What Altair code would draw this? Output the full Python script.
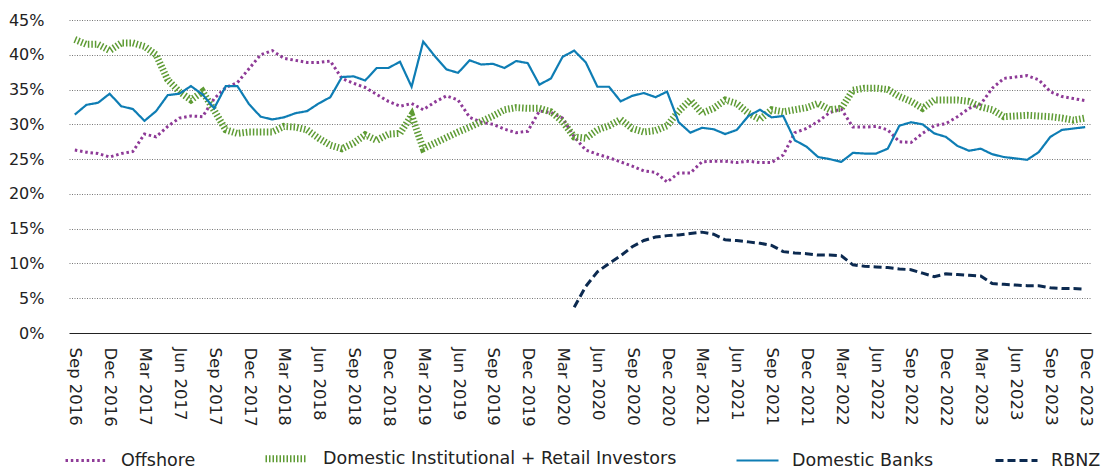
import altair as alt
import pandas as pd

months = list(pd.date_range("2016-09-01", periods=88, freq="MS").strftime("%b %Y"))
tick_labels = months[::3]

offshore = [26.3, 26.0, 25.8, 25.3, 25.8, 26.1, 28.6, 28.2, 29.7, 30.9,
            31.2, 31.1, 33.7, 35.3, 36.0, 38.0, 40.0, 40.6, 39.5, 39.2,
            38.9, 38.9, 39.1, 36.6, 35.9, 35.3, 34.3,
            33.3, 32.6, 33.0, 32.1, 33.2, 34.1, 33.5, 31.0, 30.3, 30.0,
            29.3, 28.8, 29.0, 31.9, 31.7, 30.9, 28.2, 26.3, 25.7, 25.2,
            24.6, 24.0, 23.3, 23.1, 21.7, 23.0, 23.0, 24.6, 24.7, 24.7,
            24.5,
            24.7, 24.5, 24.5, 25.6, 28.8, 29.4, 30.4, 31.7, 32.2, 29.6,
            29.6, 29.7, 29.2, 27.5, 27.4, 28.7, 29.8, 30.1, 31.1, 32.3,
            32.9, 35.2, 36.6, 36.8, 37.0, 36.4, 34.7, 34.0, 33.7, 33.4]

domestic_inst = [42.2, 41.5, 41.5, 40.6, 41.7, 41.7, 41.2, 40.0, 36.4, 34.7,
                 33.5, 34.7, 32.0, 29.2, 28.7, 28.9, 28.9, 28.9, 29.7, 29.6,
                 29.2, 28.0, 27.0, 26.5, 27.3, 28.5, 27.7,
                 28.6, 28.7, 31.3, 26.5, 27.3, 28.1, 28.9, 29.6, 30.4, 31.2,
                 32.1, 32.4, 32.3, 32.3, 31.8, 30.4, 28.2, 28.0, 29.2, 29.8,
                 30.7, 29.4, 28.9, 29.1, 29.8, 31.9, 33.5, 31.6, 32.3, 33.5,
                 33.0,
                 31.6, 30.7, 32.1, 31.8, 32.1, 32.4, 33.0, 32.1, 32.3, 34.9,
                 35.2, 35.2, 35.0, 34.0, 33.3, 32.3, 33.5, 33.5, 33.5, 33.3,
                 32.5, 32.1, 31.1, 31.2, 31.3, 31.2, 31.1, 30.9, 30.6, 30.9]

domestic_banks = [31.4, 32.8, 33.1, 34.4, 32.6, 32.2, 30.5, 31.9, 34.2, 34.4,
                  35.5, 34.3, 32.3, 35.5, 35.5, 32.9, 31.1, 30.7, 31.0, 31.6,
                  31.9, 33.0, 33.9, 36.8, 36.9, 36.3, 38.1,
                  38.1, 39.0, 35.4, 41.9, 39.8, 37.9, 37.4, 39.2, 38.6, 38.7,
                  38.1, 39.1, 38.8, 35.7, 36.6, 39.7, 40.6, 38.9, 35.4, 35.4,
                  33.3, 34.1, 34.5, 33.9, 34.7, 30.3, 28.8, 29.5, 29.3, 28.6,
                  29.2,
                  31.2, 32.1, 31.0, 31.2, 27.7, 26.8, 25.3, 25.0, 24.6, 25.9,
                  25.8, 25.8, 26.5, 29.8, 30.3, 30.0, 28.7, 28.2, 26.9, 26.2,
                  26.5, 25.7, 25.3, 25.1, 24.9, 26.0, 28.2, 29.2, 29.4, 29.6]

rbnz_start = "Apr 2020"
rbnz = [3.7, 6.7, 8.8, 10.0, 11.1, 12.4, 13.3, 13.8, 14.0, 14.1,
        14.3, 14.5, 14.2, 13.4, 13.3,
        13.1, 12.9, 12.6, 11.7, 11.5, 11.4, 11.2, 11.2, 11.1, 9.8,
        9.6, 9.5, 9.4, 9.2, 9.1, 8.6, 8.1, 8.5, 8.4, 8.3,
        8.2, 7.1, 7.0, 6.9, 6.8, 6.8, 6.5, 6.4, 6.4, 6.3]

series_names = ["Offshore", "Domestic Institutional + Retail Investors",
                "Domestic Banks", "RBNZ"]
colors = ["#8E3A97", "#5E9B34", "#0E7DB4", "#0C2A50"]
dashes = [[2.5, 2.8], [1.5, 2], [1, 0], [8, 4]]
widths = [3, 7, 2.2, 3]

rows = []
for name, vals, start in [(series_names[0], offshore, months[0]),
                          (series_names[1], domestic_inst, months[0]),
                          (series_names[2], domestic_banks, months[0]),
                          (series_names[3], rbnz, rbnz_start)]:
    s = months.index(start)
    for k, v in enumerate(vals):
        rows.append({"month": months[s + k], "series": name, "value": v / 100})
df = pd.DataFrame(rows)

FONT = "DejaVu Sans"

x = alt.X("month:O", sort=months, title=None,
          scale=alt.Scale(type="point", range=[20, 1042]),
          axis=alt.Axis(values=tick_labels, labelAngle=90, ticks=False,
                        domain=False, grid=False, labelPadding=14,
                        labelFontSize=16.5, labelFont=FONT, labelColor="#222"))
y = alt.Y("value:Q", title=None,
          scale=alt.Scale(domain=[0, 0.45], nice=False),
          axis=alt.Axis(values=[i * 0.05 for i in range(10)], format=".0%",
                        domain=False, ticks=False, labelPadding=5,
                        labelFontSize=16, labelFont=FONT, labelColor="#222",
                        grid=True, gridWidth=1,
                        gridColor={"condition": {"test": "datum.value === 0", "value": "#222"}, "value": "#777"},
                        gridDash={"condition": {"test": "datum.value === 0", "value": []}, "value": [1, 1.5]}))

legend = alt.Legend(title=None, orient="none", legendX=15, legendY=414,
                    direction="horizontal", symbolType="stroke", symbolSize=1764,
                    labelFontSize=17.5, labelFont=FONT, labelColor="#222",
                    columnPadding=55, labelOffset=12, labelLimit=600)

chart = alt.Chart(df).mark_line(strokeCap="butt").encode(
    x=x, y=y,
    color=alt.Color("series:N", sort=series_names,
                    scale=alt.Scale(domain=series_names, range=colors), legend=legend),
    strokeDash=alt.StrokeDash("series:N", sort=series_names,
                              scale=alt.Scale(domain=series_names, range=dashes), legend=legend),
    strokeWidth=alt.StrokeWidth("series:N", sort=series_names,
                                scale=alt.Scale(type="ordinal", domain=series_names, range=widths),
                                legend=legend),
    detail="series:N",
).properties(
    width=1052, height=313,
    padding={"left": 0, "top": 4, "right": 0, "bottom": 0},
).configure_view(stroke=None)

chart.save("out.html", embed_options={"renderer": "svg", "actions": False})
